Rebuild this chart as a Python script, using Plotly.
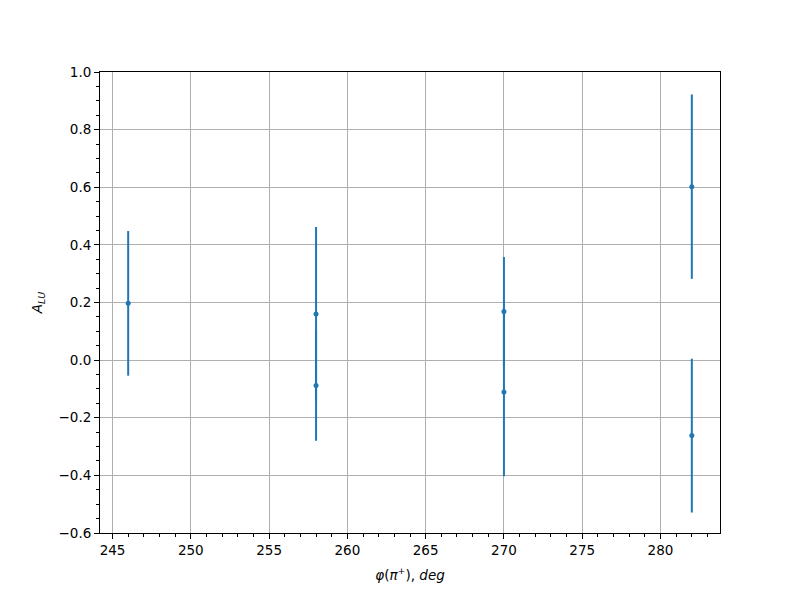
import plotly.graph_objects as go

phi = [246, 258, 258, 270, 270, 282, 282]
alu = [0.197, 0.160, -0.088, 0.169, -0.111, 0.602, -0.262]
alu_err = [0.251, 0.302, 0.192, 0.189, 0.292, 0.320, 0.267]

x_ticks = [245, 250, 255, 260, 265, 270, 275, 280]
y_ticks = [-0.6, -0.4, -0.2, 0.0, 0.2, 0.4, 0.6, 0.8, 1.0]

blue = "#1f77b4"
font = "DejaVu Sans, sans-serif"

fig = go.Figure()
fig.add_trace(go.Scatter(
    x=phi, y=alu, mode="markers",
    marker=dict(color=blue, size=5),
    error_y=dict(type="data", array=alu_err, visible=True, color=blue, thickness=2, width=0),
    showlegend=False,
))

axis_common = dict(
    showline=True, linecolor="black", linewidth=1, mirror=True,
    ticks="outside", ticklen=5, tickwidth=1, tickcolor="black",
    showgrid=True, gridcolor="#b0b0b0", gridwidth=1, zeroline=False,
    tickfont=dict(family=font, size=13.5, color="black"),
)

fig.update_layout(
    width=800, height=600,
    margin=dict(l=92, r=88, t=64, b=75),
    plot_bgcolor="white", paper_bgcolor="white",
    font=dict(family=font, size=13.5, color="black"),
    xaxis=dict(
        range=[244.2, 283.8], tickvals=x_ticks, ticktext=[str(v) for v in x_ticks],
        minor=dict(dtick=1, tick0=245, ticks="outside", ticklen=3, tickcolor="black", showgrid=False),
        title=dict(text="<i>φ</i>(<i>π</i><sup>+</sup>), <i>deg</i>", font=dict(family=font, size=13.5), standoff=13),
        **axis_common,
    ),
    yaxis=dict(
        range=[-0.6, 1.0], tickvals=y_ticks, ticktext=[f"{v:.1f}".replace("-", "\u2212") for v in y_ticks],
        minor=dict(dtick=0.05, tick0=0, ticks="outside", ticklen=3, tickcolor="black", showgrid=False),
        title=dict(text="<i>A</i><sub><i>LU</i></sub>", font=dict(family=font, size=13.5), standoff=12),
        **axis_common,
    ),
)

fig.write_html("out.html")
